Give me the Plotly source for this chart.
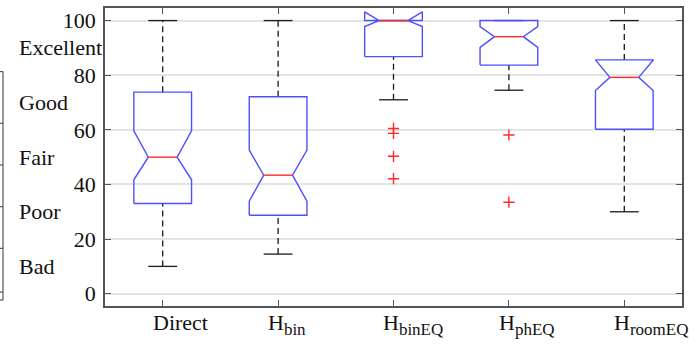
import plotly.graph_objects as go

# ---- data ----
categories = ["Direct", "H<sub><span style='font-size:17px'>bin</span></sub>",
              "H<sub><span style='font-size:17px'>binEQ</span></sub>",
              "H<sub><span style='font-size:17px'>phEQ</span></sub>",
              "H<sub><span style='font-size:17px'>roomEQ</span></sub>"]
lower_whisker = [10, 14.5, 71, 74.5, 30]
q1 = [33, 28.7, 86.8, 83.7, 60.2]
notch_lo = [41.7, 33.9, 97.8, 90.2, 74.4]
median = [50, 43.4, 100, 94.1, 79.2]
notch_hi = [59.6, 52.6, 103.2, 97.8, 85.5]
q3 = [73.8, 72.1, 100, 100, 85.6]
upper_whisker = [100, 100, 100, 100, 100]
outlier_group = [3, 3, 3, 3, 4, 4]
outlier_value = [60.5, 58.7, 50.3, 42.1, 58.1, 33.5]
y_ticks = [0, 20, 40, 60, 80, 100]
quality_labels = ["Excellent", "Good", "Fair", "Poor", "Bad"]
quality_values = [90, 70, 50, 30, 10]

positions = list(range(1, len(categories) + 1))
W = 0.25   # box half width
NW = 0.125 # notch half width
CW = 0.125 # cap half width

FONT = "Liberation Serif, Times New Roman, serif"
FS = 22
BLUE = "#4f4fff"
RED = "#ff2a2a"
BLACK = "#1a1a1a"
FRAME = "#555555"
TXT = "#111111"

fig = go.Figure()

# whiskers (dashed)
wx, wy = [], []
for p, a, b, c, d in zip(positions, lower_whisker, q1, q3, upper_whisker):
    wx += [p, p, None, p, p, None]
    wy += [a, b, None, c, d, None]
fig.add_trace(go.Scatter(x=wx, y=wy, mode="lines",
                         line=dict(color=BLACK, width=1.3, dash="6px,4px"),
                         hoverinfo="skip", showlegend=False))
# caps
cx, cy = [], []
for p, a, d in zip(positions, lower_whisker, upper_whisker):
    cx += [p - CW, p + CW, None, p - CW, p + CW, None]
    cy += [a, a, None, d, d, None]
fig.add_trace(go.Scatter(x=cx, y=cy, mode="lines",
                         line=dict(color=BLACK, width=1.3),
                         hoverinfo="skip", showlegend=False))
# notched boxes
bx, by = [], []
for p, a, nl, m, nh, b in zip(positions, q1, notch_lo, median, notch_hi, q3):
    bx += [p - W, p - W, p - NW, p - W, p - W, p + W, p + W, p + NW, p + W, p + W, p - W, None]
    by += [a, nl, m, nh, b, b, nh, m, nl, a, a, None]
fig.add_trace(go.Scatter(x=bx, y=by, mode="lines",
                         line=dict(color=BLUE, width=1.4),
                         hoverinfo="skip", showlegend=False))
# medians
mx, my = [], []
for p, m in zip(positions, median):
    mx += [p - NW, p + NW, None]
    my += [m, m, None]
fig.add_trace(go.Scatter(x=mx, y=my, mode="lines",
                         line=dict(color=RED, width=1.4),
                         hoverinfo="skip", showlegend=False))
# outliers
fig.add_trace(go.Scatter(x=outlier_group, y=outlier_value, mode="markers",
                         marker=dict(symbol="cross-thin", size=8,
                                     line=dict(color=RED, width=1.4)),
                         hoverinfo="skip", showlegend=False))

# quality labels on the left
for t, v in zip(quality_labels, quality_values):
    fig.add_annotation(x=-0.153, xref="paper", y=v, yref="y", text=t,
                       showarrow=False, xanchor="left", yanchor="middle",
                       font=dict(family=FONT, size=FS, color=TXT))

# category labels (left-aligned slightly before each tick, as in the reference)
for p, t in zip(positions, categories):
    fig.add_annotation(x=p - 0.105, xref="x", y=0, yref="paper", text=t,
                       showarrow=False, xanchor="left", yanchor="top", yshift=-2,
                       font=dict(family=FONT, size=FS, color=TXT))

# fragment of neighbouring panel at the far left
px0 = (3 - 105) / 577
pxl = (0 - 105) / 577
def py(v):
    return (306 - v) / 300
fig.add_shape(type="line", xref="paper", yref="paper", x0=px0, x1=px0,
              y0=py(70), y1=py(300), line=dict(color=FRAME, width=1.2))
for yy in [70, 122, 164, 206, 248, 292, 300]:
    fig.add_shape(type="line", xref="paper", yref="paper", x0=pxl, x1=px0,
                  y0=py(yy), y1=py(yy), line=dict(color=FRAME, width=1.2))

axis_common = dict(showline=True, linecolor=FRAME, linewidth=1.5, mirror="ticks",
                   ticks="inside", ticklen=6, tickwidth=1.3, tickcolor=FRAME,
                   tickfont=dict(family=FONT, size=FS, color=TXT),
                   zeroline=False)

fig.update_xaxes(range=[0.5, 5.5], tickvals=positions, showticklabels=False,
                 showgrid=False, **axis_common)
fig.update_yaxes(range=[-4.5, 104.6], tickvals=y_ticks,
                 showgrid=True, gridcolor="#e4e4e4", gridwidth=1.5,
                 ticklabelstandoff=3, **axis_common)

fig.update_layout(width=698, height=344,
                  margin=dict(l=105, r=16, t=6, b=38),
                  paper_bgcolor="white", plot_bgcolor="white",
                  showlegend=False)

fig.write_html("out.html")
